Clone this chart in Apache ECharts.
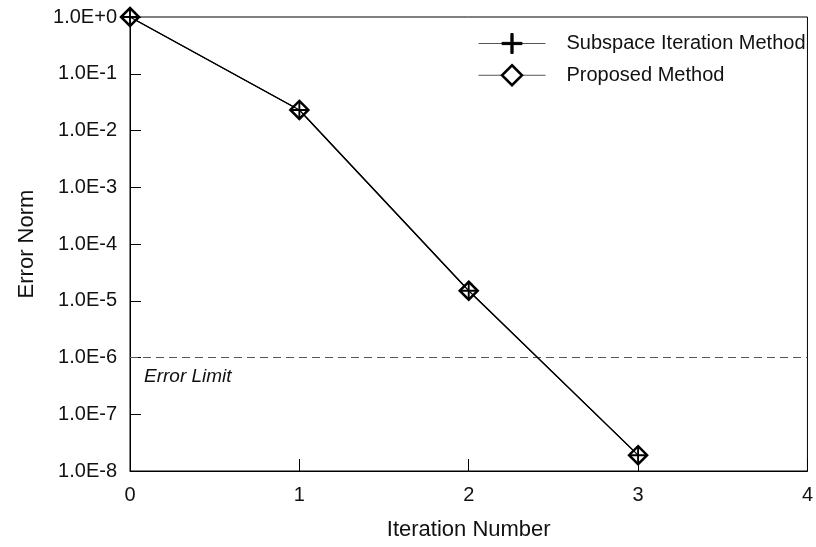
<!DOCTYPE html>
<html>
<head>
<meta charset="utf-8">
<script src="https://cdn.jsdelivr.net/npm/echarts@6/dist/echarts.min.js"></script>
<style>html,body{margin:0;padding:0;background:#fff}#c{width:816px;height:547px}</style>
</head>
<body>
<div id="c"></div>
<script>
const iterations = [0, 1, 2, 3];
const subspaceErr = [1.0, 2.3e-2, 1.5e-5, 1.9e-8];
const proposedErr = [1.0, 2.3e-2, 1.5e-5, 1.9e-8];
const errorLimit = 1e-6;
const xTicks = [0, 1, 2, 3, 4];
const yTickLabels = ['1.0E+0','1.0E-1','1.0E-2','1.0E-3','1.0E-4','1.0E-5','1.0E-6','1.0E-7','1.0E-8'];
const seriesNames = ['Subspace Iteration Method', 'Proposed Method'];

const FONT = '"Liberation Sans", Arial, Helvetica, sans-serif';
const plusPath = 'path://M-1,-9 L1,-9 L1,-1 L9,-1 L9,1 L1,1 L1,9 L-1,9 L-1,1 L-9,1 L-9,-1 L-1,-1 Z';

const pairs = ys => iterations.map((x, i) => [x, ys[i]]);
const xMin = xTicks[0], xMax = xTicks[xTicks.length - 1];

const chart = echarts.init(document.getElementById('c'), null, {renderer: 'canvas'});
chart.setOption({
  animation: false,
  backgroundColor: '#fff',
  grid: {left: 130, right: 6, top: 17, bottom: 76, show: true, borderColor: '#000', borderWidth: 1, backgroundColor: 'transparent'},
  legend: {
    orient: 'vertical', left: 473, top: 28, itemWidth: 67, itemHeight: 25, itemGap: 10,
    textStyle: {fontFamily: FONT, fontSize: 20, color: '#111', padding: [0, 0, 0, 16]},
    data: [
      {name: seriesNames[0], itemStyle: {color: '#000', borderColor: '#000', borderWidth: 1}, lineStyle: {color: '#555', width: 1}},
      {name: seriesNames[1], itemStyle: {color: '#fff', borderColor: '#000', borderWidth: 2.5}, lineStyle: {color: '#555', width: 1}}
    ]
  },
  xAxis: {
    type: 'value', min: xMin, max: xMax, interval: 1,
    name: 'Iteration Number', nameLocation: 'middle', nameGap: 48,
    nameTextStyle: {fontFamily: FONT, fontSize: 22, color: '#111'},
    axisLine: {lineStyle: {color: '#000', width: 1}},
    axisTick: {inside: true, length: 12, lineStyle: {color: '#000'}},
    axisLabel: {fontFamily: FONT, fontSize: 20, color: '#111', margin: 14},
    splitLine: {show: false}
  },
  yAxis: {
    type: 'log', logBase: 10, min: 1e-8, max: 1,
    name: 'Error Norm', nameLocation: 'middle', nameGap: 92,
    nameTextStyle: {fontFamily: FONT, fontSize: 22, color: '#111'},
    axisLine: {show: true, lineStyle: {color: '#000', width: 1}},
    axisTick: {show: true, inside: true, length: 11, lineStyle: {color: '#000'}},
    axisLabel: {
      fontFamily: FONT, fontSize: 20, color: '#111', margin: 13,
      formatter: v => yTickLabels[Math.round(-Math.log10(v))]
    },
    splitLine: {show: false}
  },
  series: [
    {
      name: 'Error Limit', type: 'line', z: 2, silent: true,
      data: [
        {value: [xMin, errorLimit], label: {show: true, position: [14, 10], align: 'left', verticalAlign: 'top',
          formatter: 'Error Limit', fontFamily: FONT, fontSize: 19, fontStyle: 'italic', color: '#111'}},
        {value: [xMax, errorLimit]}
      ],
      symbol: 'circle', symbolSize: 0.01, showSymbol: true,
      itemStyle: {color: 'rgba(0,0,0,0)'},
      lineStyle: {color: '#555', type: [8, 5], width: 1.2}
    },
    {
      name: seriesNames[1], type: 'line', data: pairs(proposedErr), z: 3,
      symbol: 'diamond', symbolSize: 18, clip: false,
      lineStyle: {color: '#000', width: 1.2},
      itemStyle: {color: '#fff', borderColor: '#000', borderWidth: 2.5}
    },
    {
      name: seriesNames[0], type: 'line', data: pairs(subspaceErr), z: 4,
      symbol: plusPath, symbolSize: 17, clip: false,
      lineStyle: {color: '#000', width: 1.2},
      itemStyle: {color: '#000'}
    }
  ]
});
</script>
</body>
</html>
